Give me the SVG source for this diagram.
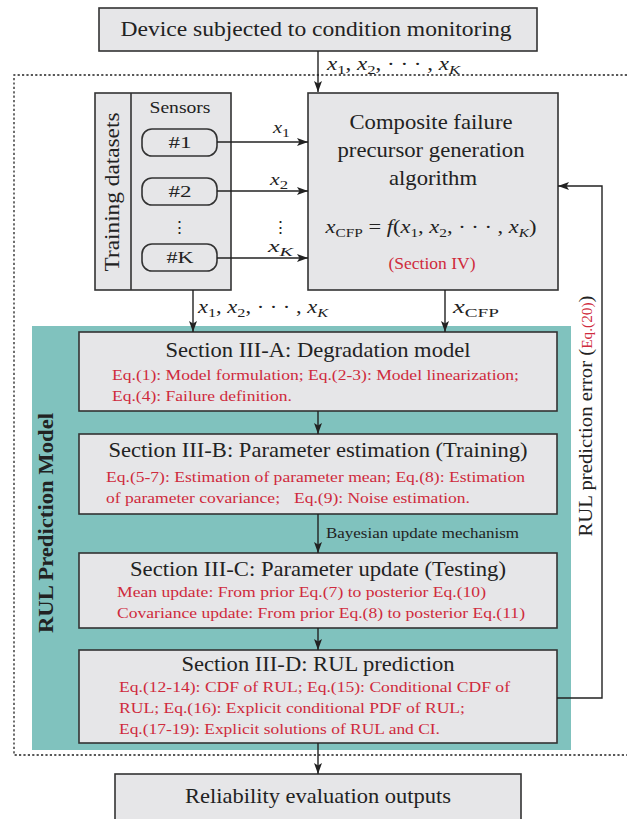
<svg xmlns="http://www.w3.org/2000/svg" width="627" height="819" viewBox="0 0 627 819">
<defs>
<marker id="ah" markerUnits="userSpaceOnUse" viewBox="0 0 11 8" refX="11" refY="4" markerWidth="11" markerHeight="8" orient="auto">
<path d="M0,0 L11,4 L0,8 L2.5,4 Z" fill="#222"/>
</marker>
</defs>
<style>
text{font-family:"Liberation Serif","Times New Roman",serif;fill:#222}
.box{fill:#e6e6e8;stroke:#333;stroke-width:1.6}
.conn{fill:none;stroke:#222;stroke-width:1.4}
.arr{marker-end:url(#ah)}
.red{fill:#cf2a3c}
.m{font-style:italic}
.sub{font-size:13px;font-style:normal}
.subi{font-size:13px;font-style:italic}
</style>
<rect width="627" height="819" fill="#fff"/>
<g id="outer-region">
<path d="M627,75 H14 V755 H627" fill="none" stroke="#222" stroke-width="1.3" stroke-dasharray="2.2,2.2"/>
</g>
<g id="rul-prediction-model">
<rect x="32" y="326" width="539" height="424" fill="#80c2be"/>
<text transform="translate(53,523) rotate(-90)" text-anchor="middle" font-size="22" font-weight="bold" textLength="220" lengthAdjust="spacingAndGlyphs">RUL Prediction Model</text>
</g>
<g id="device">
<rect class="box" x="99" y="8" width="438" height="43"/>
<text x="316" y="36" text-anchor="middle" font-size="22" textLength="391" lengthAdjust="spacingAndGlyphs">Device subjected to condition monitoring</text>
</g>
<g id="training-datasets">
<rect class="box" x="95" y="93" width="136" height="197"/>
<line x1="131" y1="93" x2="131" y2="290" stroke="#333" stroke-width="1.6"/>
<text transform="translate(119,192) rotate(-90)" text-anchor="middle" font-size="21" textLength="159" lengthAdjust="spacingAndGlyphs">Training datasets</text>
<text x="180" y="113" text-anchor="middle" font-size="16" textLength="61" lengthAdjust="spacingAndGlyphs">Sensors</text>
<rect class="box" x="142" y="129" width="75" height="27" rx="10"/>
<text x="180" y="148" text-anchor="middle" font-size="17" textLength="23" lengthAdjust="spacingAndGlyphs">#1</text>
<rect class="box" x="142" y="178" width="75" height="27" rx="10"/>
<text x="180" y="197" text-anchor="middle" font-size="17" textLength="23" lengthAdjust="spacingAndGlyphs">#2</text>
<text x="179" y="233" text-anchor="middle" font-size="17" font-family="DejaVu Serif">⋮</text>
<rect class="box" x="142" y="244" width="75" height="27" rx="10"/>
<text x="180" y="263" text-anchor="middle" font-size="17" textLength="27" lengthAdjust="spacingAndGlyphs">#K</text>
</g>
<g id="composite">
<rect class="box" x="308" y="93" width="250" height="197"/>
<text x="431" y="129" text-anchor="middle" font-size="21.5" textLength="163" lengthAdjust="spacingAndGlyphs">Composite failure</text>
<text x="431" y="157" text-anchor="middle" font-size="21.5" textLength="187" lengthAdjust="spacingAndGlyphs">precursor generation</text>
<text x="433" y="185" text-anchor="middle" font-size="21.5" textLength="88" lengthAdjust="spacingAndGlyphs">algorithm</text>
<text x="431" y="233" text-anchor="middle" font-size="19" textLength="211" lengthAdjust="spacingAndGlyphs"><tspan class="m">x</tspan><tspan class="sub" dy="4">CFP</tspan><tspan dy="-4"> = </tspan><tspan class="m">f</tspan>(<tspan class="m">x</tspan><tspan class="sub" dy="4">1</tspan><tspan dy="-4">, </tspan><tspan class="m">x</tspan><tspan class="sub" dy="4">2</tspan><tspan dy="-4">, · · · , </tspan><tspan class="m">x</tspan><tspan class="subi" dy="4">K</tspan><tspan dy="-4">)</tspan></text>
<text class="red" x="432" y="269" text-anchor="middle" font-size="16" textLength="87" lengthAdjust="spacingAndGlyphs">(Section IV)</text>
</g>
<g id="section-3a">
<rect class="box" x="79" y="332" width="478" height="79"/>
<text x="318" y="357" text-anchor="middle" font-size="21" textLength="305" lengthAdjust="spacingAndGlyphs">Section III-A: Degradation model</text>
<text class="red" x="112" y="380" font-size="15.5" textLength="407" lengthAdjust="spacingAndGlyphs">Eq.(1): Model formulation; Eq.(2-3): Model linearization;</text>
<text class="red" x="112" y="401" font-size="15.5" textLength="180" lengthAdjust="spacingAndGlyphs">Eq.(4): Failure definition.</text>
</g>
<g id="section-3b">
<rect class="box" x="79" y="434" width="478" height="80"/>
<text x="318" y="457" text-anchor="middle" font-size="21" textLength="419" lengthAdjust="spacingAndGlyphs">Section III-B: Parameter estimation (Training)</text>
<text class="red" x="106" y="482" font-size="15.5" textLength="419" lengthAdjust="spacingAndGlyphs">Eq.(5-7): Estimation of parameter mean; Eq.(8): Estimation</text>
<text class="red" x="106" y="503" font-size="15.5" textLength="174" lengthAdjust="spacingAndGlyphs">of parameter covariance;</text>
<text class="red" x="294" y="503" font-size="15.5" textLength="176" lengthAdjust="spacingAndGlyphs">Eq.(9): Noise estimation.</text>
</g>
<g id="section-3c">
<rect class="box" x="79" y="553" width="478" height="75"/>
<text x="318" y="576" text-anchor="middle" font-size="21" textLength="376" lengthAdjust="spacingAndGlyphs">Section III-C: Parameter update (Testing)</text>
<text class="red" x="117" y="597" font-size="15.5" textLength="369" lengthAdjust="spacingAndGlyphs">Mean update: From prior Eq.(7) to posterior Eq.(10)</text>
<text class="red" x="117" y="618" font-size="15.5" textLength="408" lengthAdjust="spacingAndGlyphs">Covariance update: From prior Eq.(8) to posterior Eq.(11)</text>
</g>
<g id="section-3d">
<rect class="box" x="79" y="650" width="478" height="93"/>
<text x="318" y="671" text-anchor="middle" font-size="21" textLength="273" lengthAdjust="spacingAndGlyphs">Section III-D: RUL prediction</text>
<text class="red" x="119" y="692" font-size="15.5" textLength="391" lengthAdjust="spacingAndGlyphs">Eq.(12-14): CDF of RUL; Eq.(15): Conditional CDF of</text>
<text class="red" x="119" y="713" font-size="15.5" textLength="346" lengthAdjust="spacingAndGlyphs">RUL; Eq.(16): Explicit conditional PDF of RUL;</text>
<text class="red" x="119" y="734" font-size="15.5" textLength="321" lengthAdjust="spacingAndGlyphs">Eq.(17-19): Explicit solutions of RUL and CI.</text>
</g>
<g id="reliability">
<rect class="box" x="115" y="774" width="406" height="50"/>
<text x="318" y="803" text-anchor="middle" font-size="21" textLength="266" lengthAdjust="spacingAndGlyphs">Reliability evaluation outputs</text>
</g>
<g id="connectors">
<path class="conn arr" d="M318,51 V92"/>
<text x="327" y="70" font-size="18" textLength="133" lengthAdjust="spacingAndGlyphs"><tspan class="m">x</tspan><tspan class="sub" dy="4">1</tspan><tspan dy="-4">, </tspan><tspan class="m">x</tspan><tspan class="sub" dy="4">2</tspan><tspan dy="-4">, · · · , </tspan><tspan class="m">x</tspan><tspan class="subi" dy="4">K</tspan></text>
<path class="conn arr" d="M217,142 H308"/>
<path class="conn arr" d="M217,191 H308"/>
<path class="conn arr" d="M217,258 H308"/>
<text x="273" y="133" font-size="17" textLength="17" lengthAdjust="spacingAndGlyphs"><tspan class="m">x</tspan><tspan class="sub" dy="4">1</tspan></text>
<text x="270" y="185" font-size="17" textLength="18" lengthAdjust="spacingAndGlyphs"><tspan class="m">x</tspan><tspan class="sub" dy="4">2</tspan></text>
<text x="280" y="233" text-anchor="middle" font-size="17" font-family="DejaVu Serif">⋮</text>
<text x="268" y="252" font-size="17" textLength="25" lengthAdjust="spacingAndGlyphs"><tspan class="m">x</tspan><tspan class="subi" dy="4">K</tspan></text>
<path class="conn arr" d="M193,290 V332"/>
<text x="198" y="313" font-size="18" textLength="130" lengthAdjust="spacingAndGlyphs"><tspan class="m">x</tspan><tspan class="sub" dy="4">1</tspan><tspan dy="-4">, </tspan><tspan class="m">x</tspan><tspan class="sub" dy="4">2</tspan><tspan dy="-4">, · · · , </tspan><tspan class="m">x</tspan><tspan class="subi" dy="4">K</tspan></text>
<path class="conn arr" d="M445,290 V332"/>
<text x="453" y="313" font-size="18" textLength="46" lengthAdjust="spacingAndGlyphs"><tspan class="m">x</tspan><tspan class="sub" dy="4">CFP</tspan></text>
<path class="conn arr" d="M318,411 V434"/>
<path class="conn arr" d="M318,514 V553"/>
<text x="326" y="538" font-size="15" textLength="193" lengthAdjust="spacingAndGlyphs">Bayesian update mechanism</text>
<path class="conn arr" d="M318,628 V650"/>
<path class="conn arr" d="M318,743 V774"/>
<path class="conn arr" d="M557,698 H602 V186 H558"/>
<text transform="translate(592,416) rotate(-90)" text-anchor="middle" font-size="19" textLength="241" lengthAdjust="spacingAndGlyphs">RUL prediction error (<tspan class="red" font-size="14">Eq.(20)</tspan>)</text>
</g>
</svg>
